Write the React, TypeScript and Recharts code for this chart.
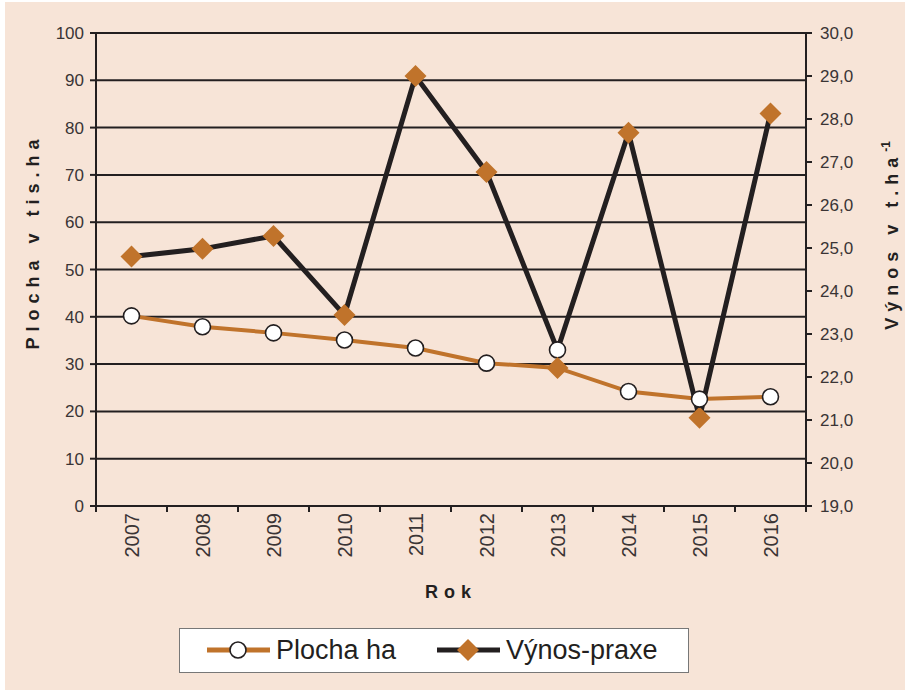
import { LineChart, Line, XAxis, YAxis, CartesianGrid, Legend, Label } from 'recharts'

const years = ['2007', '2008', '2009', '2010', '2011', '2012', '2013', '2014', '2015', '2016']
const plochaHa = [40.2, 37.9, 36.6, 35.1, 33.4, 30.2, 29.2, 24.2, 22.6, 23.1]
const vynosPraxe = [24.8, 24.98, 25.28, 23.44, 29.0, 26.77, 22.63, 27.68, 21.05, 28.13]
const leftTicks = [0, 10, 20, 30, 40, 50, 60, 70, 80, 90, 100]
const rightTicks = [19, 20, 21, 22, 23, 24, 25, 26, 27, 28, 29, 30]
// in the source figure the two markers are swapped in this year
const swappedMarkerYears = ['2013']

const data = years.map((year, i) => ({ year, plocha: plochaHa[i], vynos: vynosPraxe[i] }))

const BG = '#f7e4d7'
const ORANGE = '#c0732b'
const DARK = '#231f20'
const TEXT = '#3a3435'
const FONT = '"Liberation Sans", Arial, sans-serif'
const X_TICK_MARGIN = 7

const circle = (cx: number, cy: number, key: string) => (
  <circle key={key} cx={cx} cy={cy} r={8} fill="#fff" stroke={DARK} strokeWidth={1.6} />
)
const diamond = (cx: number, cy: number, key: string) => (
  <path key={key} d={`M${cx},${cy - 11}L${cx + 11},${cy}L${cx},${cy + 11}L${cx - 11},${cy}Z`} fill={ORANGE} />
)

const plochaDot = (p: any) => {
  const key = `p-${p.index}`
  return swappedMarkerYears.includes(p.payload.year) ? diamond(p.cx, p.cy, key) : circle(p.cx, p.cy, key)
}
const vynosDot = (p: any) => {
  const key = `v-${p.index}`
  return swappedMarkerYears.includes(p.payload.year) ? circle(p.cx, p.cy, key) : diamond(p.cx, p.cy, key)
}

// year label plus tick marks on the category boundaries (Excel style)
const YearTick = ({ x, y, payload, index, visibleTicksCount }: any) => {
  const half = payload.offset || 0
  const axisY = y - X_TICK_MARGIN
  const isLast = index === visibleTicksCount - 1
  return (
    <g>
      <line x1={x - half} y1={axisY} x2={x - half} y2={axisY + 6} stroke={DARK} strokeWidth={2} />
      {isLast && <line x1={x + half} y1={axisY} x2={x + half} y2={axisY + 6} stroke={DARK} strokeWidth={2} />}
      <text
        x={x}
        y={y}
        transform={`rotate(-90 ${x} ${y})`}
        textAnchor="end"
        dy="0.36em"
        fontSize={20}
        fontFamily={FONT}
        fill={TEXT}
      >
        {payload.value}
      </text>
    </g>
  )
}

const titleStyle = { fontFamily: FONT, fontWeight: 700, fontSize: 18, fill: DARK, letterSpacing: 6 }

const LeftTitle = ({ viewBox }: any) => {
  const x = viewBox.x + 28
  const y = viewBox.y + viewBox.height / 2 - 28
  return (
    <text x={x} y={y} transform={`rotate(-90 ${x} ${y})`} textAnchor="middle" dy="0.36em" style={titleStyle}>
      Plocha v tis.ha
    </text>
  )
}

const RightTitle = ({ viewBox }: any) => {
  const x = viewBox.x + 86
  const y = viewBox.y + viewBox.height / 2 - 34
  return (
    <text x={x} y={y} transform={`rotate(-90 ${x} ${y})`} textAnchor="middle" dy="0.36em" style={titleStyle}>
      Výnos v t.ha
      <tspan fontSize={12} dy="-8" letterSpacing={0}>-1</tspan>
    </text>
  )
}

const BottomTitle = ({ viewBox }: any) => (
  <text x={viewBox.x + viewBox.width / 2} y={viewBox.y + 92} textAnchor="middle" style={titleStyle}>
    Rok
  </text>
)

const LegendBox = () => (
  <div
    style={{
      position: 'relative',
      width: 510,
      height: 45,
      boxSizing: 'border-box',
      background: '#fff',
      border: '1.5px solid #777',
      fontFamily: FONT,
      fontSize: 27,
      color: DARK,
    }}
  >
    <svg width={63} height={24} style={{ position: 'absolute', left: 27, top: 9 }}>
      <line x1={0} y1={12} x2={63} y2={12} stroke={ORANGE} strokeWidth={5} />
      <circle cx={31} cy={12} r={8} fill="#fff" stroke={DARK} strokeWidth={1.6} />
    </svg>
    <span style={{ position: 'absolute', left: 96, top: 5, lineHeight: '32px' }}>Plocha ha</span>
    <svg width={63} height={24} style={{ position: 'absolute', left: 257, top: 9 }}>
      <line x1={0} y1={12} x2={63} y2={12} stroke={DARK} strokeWidth={5} />
      <path d="M31,1L42,12L31,23L20,12Z" fill={ORANGE} />
    </svg>
    <span style={{ position: 'absolute', left: 326, top: 5, lineHeight: '32px' }}>Výnos-praxe</span>
  </div>
)

export default function App() {
  return (
    <div style={{ position: 'absolute', left: 0, top: 0, width: 909, height: 694, background: '#fff' }}>
      <div style={{ position: 'absolute', left: 5, top: 2, width: 900, height: 688, background: BG }}>
        <LineChart width={900} height={688} data={data} margin={{ top: 31, right: 0, bottom: 84, left: 0 }}>
          <CartesianGrid yAxisId="left" vertical={false} stroke={DARK} strokeWidth={2} />
          <XAxis
            dataKey="year"
            scale="band"
            height={100}
            axisLine={{ stroke: DARK, strokeWidth: 2 }}
            tickLine={false}
            tickSize={0}
            tickMargin={X_TICK_MARGIN}
            interval={0}
            tick={<YearTick />}
          >
            <Label content={<BottomTitle />} />
          </XAxis>
          <YAxis
            yAxisId="left"
            width={91}
            domain={[0, 100]}
            ticks={leftTicks}
            interval={0}
            tickSize={6}
            tickMargin={6}
            axisLine={{ stroke: DARK, strokeWidth: 2 }}
            tickLine={{ stroke: DARK, strokeWidth: 2 }}
            tick={{ fill: TEXT, fontSize: 17, fontFamily: FONT }}
          >
            <Label content={<LeftTitle />} />
          </YAxis>
          <YAxis
            yAxisId="right"
            orientation="right"
            width={99}
            domain={[19, 30]}
            ticks={rightTicks}
            interval={0}
            tickSize={6}
            tickMargin={8}
            tickFormatter={(v: number) => v.toFixed(1).replace('.', ',')}
            axisLine={{ stroke: DARK, strokeWidth: 2 }}
            tickLine={{ stroke: DARK, strokeWidth: 2 }}
            tick={{ fill: TEXT, fontSize: 17, fontFamily: FONT }}
          >
            <Label content={<RightTitle />} />
          </YAxis>
          <Legend
            layout="vertical"
            align="center"
            verticalAlign="middle"
            content={<LegendBox />}
            wrapperStyle={{ position: 'absolute', left: 174, top: 626, width: 510, height: 45 }}
          />
          <Line
            yAxisId="right"
            dataKey="vynos"
            name="Výnos-praxe"
            type="linear"
            stroke={DARK}
            strokeWidth={5}
            dot={vynosDot}
            activeDot={false}
            isAnimationActive={false}
          />
          <Line
            yAxisId="left"
            dataKey="plocha"
            name="Plocha ha"
            type="linear"
            stroke={ORANGE}
            strokeWidth={4}
            dot={plochaDot}
            activeDot={false}
            isAnimationActive={false}
          />
        </LineChart>
      </div>
    </div>
  )
}
